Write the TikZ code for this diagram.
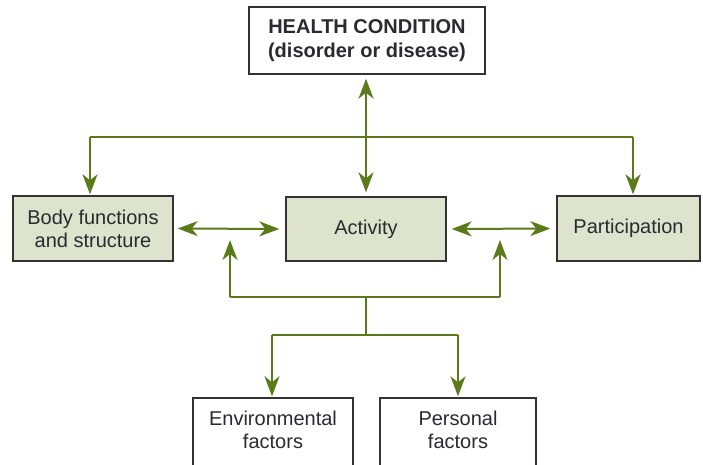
\documentclass[tikz,border=0pt]{standalone}
\usepackage{fontspec}
\setmainfont{Liberation Sans}
\usetikzlibrary{arrows.meta}
\definecolor{arr}{HTML}{5B7A1A}
\definecolor{boxfill}{HTML}{DDE3CC}
\definecolor{boxline}{HTML}{333333}
\definecolor{txt}{HTML}{2A2A30}
\begin{document}
\begin{tikzpicture}[x=1pt,y=-1pt,
  >={Stealth[length=20pt,width=15pt,inset=6pt]},
  box/.style={draw=boxline,line width=1.4pt,text=txt,align=center,inner sep=0pt,
    font=\fontsize{20}{23}\selectfont},
  gbox/.style={box,fill=boxfill},
  conn/.style={draw=arr,line width=2pt}]
\useasboundingbox (0,0) rectangle (703,464);
\clip (0,0) rectangle (703,464);
\node[box,fill=white,minimum width=236pt,minimum height=67pt,font=\fontsize{20}{24}\selectfont\bfseries] (hc) at (367,40.5) {HEALTH CONDITION\\(disorder or disease)};
\node[gbox,minimum width=160pt,minimum height=65pt] (body) at (93,228.5) {Body functions\\and structure};
\node[gbox,minimum width=160pt,minimum height=64pt] (act) at (366,229) {Activity};
\node[gbox,minimum width=143pt,minimum height=65pt] (part) at (628.5,228.5) {Participation};
\node[box,fill=white,minimum width=160pt,minimum height=80pt] (env) at (273,438) {};
\node[box,fill=white,minimum width=156pt,minimum height=80pt] (pers) at (458,438) {};
\node[text=txt,align=center,font=\fontsize{20}{23}\selectfont] (envt) at (273,430) {Environmental\\factors};
\node[text=txt,align=center,font=\fontsize{20}{23}\selectfont] (perst) at (458,430) {Personal\\factors};
% top connectors
\coordinate (tl) at (90,137);
\coordinate (tm) at (366,137);
\coordinate (tr) at (633,137);
\draw[conn,<->,shorten <=4pt,shorten >=4pt] (hc.south -| tm) -- (act.north -| tm);
\draw[conn] (tl) -- (tr);
\draw[conn,->,shorten >=1pt] (tl) -- (tl |- body.north);
\draw[conn,->,shorten >=1pt] (tr) -- (tr |- part.north);
% side connectors
\draw[conn,<->,shorten <=4pt,shorten >=6pt] (body.east) -- (act.west);
\draw[conn,<->,shorten <=5pt,shorten >=6pt] (act.east) -- (part.west);
% lower bracket
\coordinate (bl) at (230,297);
\coordinate (br) at (500,297);
\coordinate (blt) at (230,240);
\coordinate (brt) at (500,240);
\coordinate (bm) at (366,297);
\coordinate (bm2) at (366,335);
\coordinate (el) at (272,335);
\coordinate (er) at (458,335);
\draw[conn,->] (bl) -- (blt);
\draw[conn,->] (br) -- (brt);
\draw[conn] (bl) -- (br);
\draw[conn] (bm) -- (bm2);
\draw[conn] (el) -- (er);
\draw[conn,->,shorten >=1pt] (el) -- (el |- env.north);
\draw[conn,->,shorten >=1pt] (er) -- (er |- pers.north);
\end{tikzpicture}
\end{document}
